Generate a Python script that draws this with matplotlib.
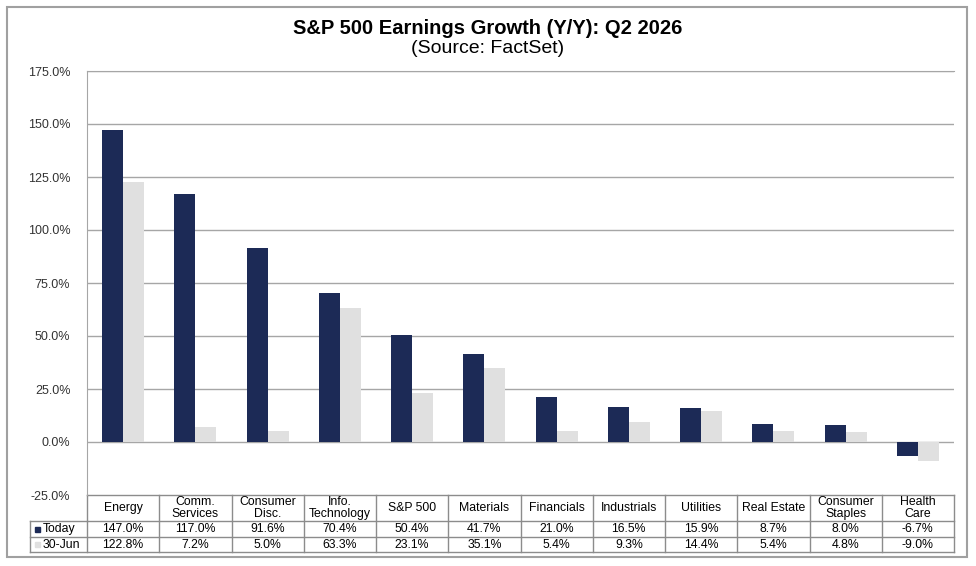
import matplotlib
matplotlib.use("Agg")
import matplotlib.pyplot as plt
from matplotlib.patches import Rectangle
import matplotlib.transforms as mtransforms

plt.rcParams['font.family'] = ['Liberation Sans', 'DejaVu Sans']

categories = ["Energy", "Comm.\nServices", "Consumer\nDisc.", "Info.\nTechnology", "S&P 500",
              "Materials", "Financials", "Industrials", "Utilities", "Real Estate",
              "Consumer\nStaples", "Health\nCare"]
today = [147.0, 117.0, 91.6, 70.4, 50.4, 41.7, 21.0, 16.5, 15.9, 8.7, 8.0, -6.7]
jun30 = [122.8, 7.2, 5.0, 63.3, 23.1, 35.1, 5.4, 9.3, 14.4, 5.4, 4.8, -9.0]
series_names = ["Today", "30-Jun"]
yticks = [-25, 0, 25, 50, 75, 100, 125, 150, 175]

navy = "#1C2A56"
lgrey = "#E0E0E0"
gridc = "#A6A6A6"
tablec = "#8C8C8C"

W, H = 976, 566
fig = plt.figure(figsize=(W/100, H/100), dpi=100)
# outer frame
fig.patches.append(Rectangle((7/W, 1-557/H), (967-7)/W, (557-7)/H, transform=fig.transFigure,
                             fill=False, edgecolor="#A0A0A0", linewidth=1.5))

ax_l, ax_r, ax_t, ax_b = 87, 954, 71, 495
ax = fig.add_axes([ax_l/W, 1-ax_b/H, (ax_r-ax_l)/W, (ax_b-ax_t)/H])

n = len(categories)
x = list(range(n))
bw = 0.29
ax.bar([i - bw/2 for i in x], today, width=bw, color=navy, zorder=3)
ax.bar([i + bw/2 for i in x], jun30, width=bw, color=lgrey, zorder=3)

ax.set_xlim(-0.5, n-0.5)
ax.set_ylim(-25, 175)
ax.set_yticks(yticks)
ax.set_yticklabels([f"{v:.1f}%" for v in yticks], fontsize=9, color="#333333")
ax.tick_params(axis='y', length=0, pad=12)
ax.set_xticks([])
for v in yticks:
    if v > -25:
        ax.axhline(v, color=gridc, linewidth=1.0, zorder=1)
for s in ["right", "bottom"]:
    ax.spines[s].set_visible(False)
ax.spines["left"].set_color(gridc)
ax.spines["top"].set_color(gridc)

fig.text(0.5, 1-28/H, "S&P 500 Earnings Growth (Y/Y): Q2 2026", ha="center", va="center",
         fontsize=14.5, fontweight="bold")
fig.text(0.5, 1-48.5/H, "(Source: FactSet)", ha="center", va="center", fontsize=14)

# data table
ph = ax_b - ax_t
def ya(py):
    return (ax_b - py) / ph

trans = mtransforms.blended_transform_factory(ax.transData, ax.transAxes)
y0, y1, y2, y3 = ya(495), ya(521), ya(537), ya(552)
legend_left = (30 - ax_l) / (ax_r - ax_l)
lkw = dict(color=tablec, linewidth=1.0, clip_on=False)
# horizontal lines
ax.plot([-0.5, n-0.5], [y0, y0], transform=trans, **lkw)
ax.plot([0, 1], [y1, y1], transform=ax.transAxes, **lkw)
ax.plot([legend_left, 0], [y1, y1], transform=ax.transAxes, **lkw)
ax.plot([legend_left, 1], [y2, y2], transform=ax.transAxes, **lkw)
ax.plot([legend_left, 1], [y3, y3], transform=ax.transAxes, **lkw)
ax.plot([legend_left, legend_left], [y1, y3], transform=ax.transAxes, **lkw)
# vertical lines
for i in range(n+1):
    ax.plot([i-0.5, i-0.5], [y0, y3], transform=trans, **lkw)

for i, c in enumerate(categories):
    ax.text(i, (y0+y1)/2, c, transform=trans, ha="center", va="center", fontsize=8.8,
            linespacing=0.95, clip_on=False)
    ax.text(i, (y1+y2)/2, f"{today[i]:.1f}%", transform=trans, ha="center", va="center",
            fontsize=8.8, clip_on=False)
    ax.text(i, (y2+y3)/2, f"{jun30[i]:.1f}%", transform=trans, ha="center", va="center",
            fontsize=8.8, clip_on=False)

for name, col, ya_ in [(series_names[0], navy, (y1+y2)/2), (series_names[1], lgrey, (y2+y3)/2)]:
    sx = (35 - ax_l) / (ax_r - ax_l)
    ax.add_patch(Rectangle((sx, ya_ - 0.006), 5/(ax_r-ax_l), 5/ph, transform=ax.transAxes,
                           color=col, clip_on=False))
    ax.text((43 - ax_l)/(ax_r - ax_l), ya_, name, transform=ax.transAxes, ha="left", va="center",
            fontsize=8.8, clip_on=False)

fig.savefig("out.png", dpi=100)
